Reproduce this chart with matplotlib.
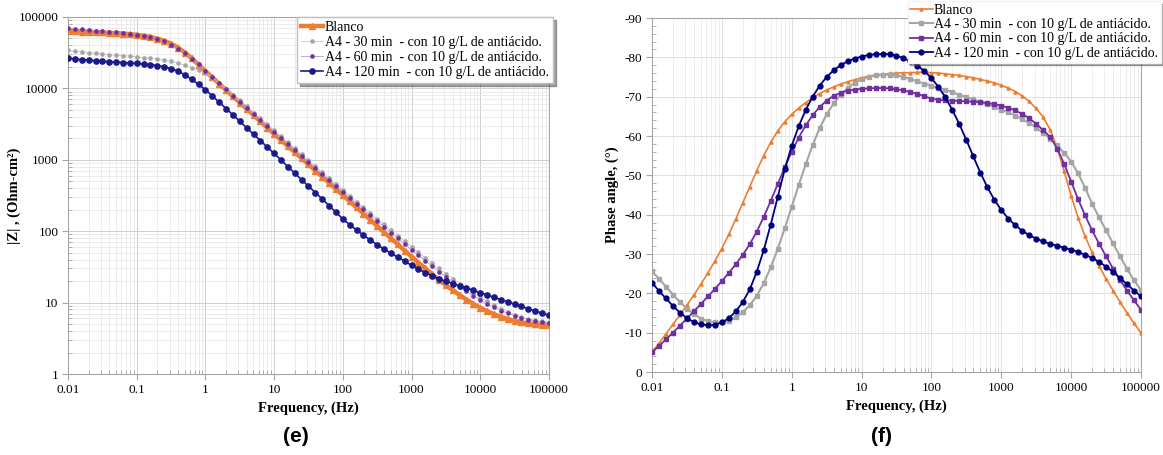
import numpy as np
import matplotlib
matplotlib.use("Agg")
import matplotlib.pyplot as plt
from matplotlib.ticker import LogLocator, MultipleLocator, NullFormatter

plt.rcParams['font.family'] = ['Liberation Serif', 'DejaVu Serif']
plt.rcParams['axes.unicode_minus'] = False

# frequency sweep, 10 points per decade from 0.01 Hz to 100 kHz
freq = np.logspace(-2, 5, 71)

labels = [
    "Blanco",
    "A4 - 30 min  - con 10 g/L de antiácido.",
    "A4 - 60 min  - con 10 g/L de antiácido.",
    "A4 - 120 min  - con 10 g/L de antiácido.",
]

# log10 |Z| (Ohm-cm2)
logz_blanco = [
    4.800, 4.797, 4.794, 4.790, 4.786, 4.782, 4.777, 4.772, 4.766, 4.758,
    4.748, 4.735, 4.718, 4.695, 4.665, 4.625, 4.570, 4.500, 4.420, 4.330,
    4.240, 4.152, 4.064, 3.976, 3.888, 3.800, 3.712, 3.624, 3.536, 3.448,
    3.360, 3.275, 3.190, 3.105, 3.020, 2.934, 2.848, 2.762, 2.676, 2.590,
    2.504, 2.418, 2.332, 2.246, 2.160, 2.073, 1.986, 1.900, 1.814, 1.728,
    1.643, 1.560, 1.478, 1.398, 1.320, 1.245, 1.173, 1.105, 1.041, 0.982,
    0.928, 0.880, 0.838, 0.801, 0.770, 0.745, 0.725, 0.709, 0.697, 0.688,
    0.681,
]
logz_30 = [
    4.530, 4.520, 4.510, 4.500, 4.490, 4.480, 4.472, 4.464, 4.456, 4.448,
    4.440, 4.430, 4.420, 4.408, 4.394, 4.376, 4.353, 4.325, 4.290, 4.250,
    4.210, 4.150, 4.075, 3.995, 3.912, 3.830, 3.745, 3.660, 3.578, 3.494,
    3.410, 3.326, 3.242, 3.158, 3.075, 2.992, 2.908, 2.825, 2.743, 2.660,
    2.578, 2.496, 2.414, 2.333, 2.252, 2.172, 2.093, 2.014, 1.936, 1.858,
    1.780, 1.703, 1.627, 1.552, 1.478, 1.405, 1.334, 1.265, 1.198, 1.134,
    1.074, 1.017, 0.964, 0.916, 0.872, 0.833, 0.800, 0.773, 0.752, 0.737,
    0.727,
]
logz_60 = [
    4.840, 4.832, 4.824, 4.816, 4.808, 4.800, 4.792, 4.784, 4.775, 4.764,
    4.750, 4.735, 4.715, 4.690, 4.655, 4.610, 4.555, 4.490, 4.415, 4.335,
    4.245, 4.158, 4.070, 3.983, 3.896, 3.809, 3.722, 3.636, 3.550, 3.467,
    3.385, 3.300, 3.216, 3.132, 3.048, 2.964, 2.880, 2.797, 2.714, 2.632,
    2.550, 2.468, 2.386, 2.304, 2.222, 2.140, 2.059, 1.978, 1.898, 1.818,
    1.739, 1.661, 1.584, 1.508, 1.433, 1.360, 1.289, 1.221, 1.156, 1.094,
    1.036, 0.982, 0.933, 0.889, 0.850, 0.816, 0.787, 0.762, 0.742, 0.726,
    0.714,
]
logz_120 = [
    4.420, 4.410, 4.400, 4.392, 4.385, 4.378, 4.372, 4.366, 4.360, 4.354,
    4.347, 4.339, 4.330, 4.318, 4.300, 4.275, 4.240, 4.190, 4.125, 4.055,
    3.980, 3.893, 3.805, 3.716, 3.627, 3.537, 3.447, 3.357, 3.267, 3.177,
    3.087, 2.995, 2.903, 2.811, 2.719, 2.630, 2.540, 2.450, 2.357, 2.264,
    2.170, 2.090, 2.015, 1.943, 1.875, 1.810, 1.748, 1.690, 1.635, 1.583,
    1.520, 1.470, 1.420, 1.375, 1.330, 1.298, 1.266, 1.234, 1.202, 1.170,
    1.138, 1.106, 1.074, 1.042, 1.010, 0.978, 0.946, 0.914, 0.882, 0.851,
    0.820,
]

# phase angle (degrees)
ph_blanco = [
    -5.0, -7.3, -9.7, -12.1, -14.5, -17.0, -19.6, -22.3, -25.2, -28.2,
    -31.4, -35.0, -38.9, -43.0, -47.1, -51.2, -55.0, -58.4, -61.3, -63.6,
    -65.5, -67.1, -68.5, -69.7, -70.8, -71.7, -72.5, -73.2, -73.8, -74.3,
    -74.8, -75.2, -75.5, -75.7, -75.9, -76.0, -76.1, -76.1, -76.2, -76.2,
    -76.1, -76.0, -75.8, -75.6, -75.4, -75.1, -74.8, -74.4, -74.0, -73.5,
    -72.9, -72.2, -71.3, -70.2, -68.8, -67.0, -64.8, -61.6, -57.0, -51.0,
    -44.8, -39.2, -34.5, -30.4, -26.9, -23.7, -20.7, -17.8, -15.0, -12.4,
    -9.9,
]
ph_30 = [
    -25.6, -23.7, -21.7, -19.7, -17.8, -16.1, -14.7, -13.6, -12.9, -12.6,
    -12.6, -13.0, -13.9, -15.2, -17.0, -19.4, -22.6, -26.6, -31.3, -36.5,
    -42.0, -47.5, -52.8, -57.7, -62.0, -65.5, -68.3, -70.5, -72.2, -73.5,
    -74.4, -75.0, -75.4, -75.6, -75.6, -75.4, -75.0, -74.5, -73.9, -73.3,
    -72.8, -72.2, -71.7, -71.1, -70.5, -69.9, -69.3, -68.7, -68.1, -67.4,
    -66.7, -66.0, -65.2, -64.3, -63.3, -62.1, -60.8, -59.3, -57.6, -55.7,
    -53.5, -50.5, -46.8, -42.8, -39.3, -36.0, -32.7, -29.4, -26.2, -23.3,
    -20.8,
]
ph_60 = [
    -5.0, -6.6, -8.3, -10.0, -11.8, -13.6, -15.4, -17.3, -19.2, -21.1,
    -23.1, -25.2, -27.4, -29.8, -32.5, -35.7, -39.4, -43.5, -47.8, -52.0,
    -56.0, -59.6, -62.7, -65.3, -67.4, -69.0, -70.2, -71.0, -71.5, -71.8,
    -72.0, -72.1, -72.2, -72.2, -72.1, -71.9, -71.6, -71.2, -70.7, -70.1,
    -69.5, -69.2, -69.1, -69.0, -68.9, -68.8, -68.7, -68.6, -68.4, -68.1,
    -67.7, -67.2, -66.5, -65.6, -64.5, -63.1, -61.5, -59.8, -56.8, -52.9,
    -48.4, -43.9, -39.8, -36.0, -32.6, -29.4, -26.3, -23.4, -20.7, -18.2,
    -15.8,
]
ph_120 = [
    -22.7, -20.6, -18.7, -16.8, -15.1, -13.7, -12.7, -12.1, -11.9, -12.0,
    -12.6, -13.7, -15.4, -17.8, -21.0, -25.5, -31.0, -37.5, -44.5, -51.5,
    -57.5, -62.5, -66.6, -70.0, -72.8, -75.0, -76.7, -78.0, -79.0, -79.7,
    -80.2, -80.6, -80.8, -80.9, -80.8, -80.4, -79.8, -79.0, -77.9, -76.5,
    -74.7, -72.5, -69.8, -66.6, -63.0, -59.0, -54.8, -50.7, -47.0, -43.8,
    -41.2, -39.0, -37.3, -35.9, -34.8, -33.9, -33.2, -32.6, -32.1, -31.6,
    -31.1, -30.5, -29.8, -29.0, -28.0, -26.8, -25.4, -23.9, -22.3, -20.7,
    -19.2,
]

c_orange = '#ED7D31'
c_gray = '#A5A5A5'
c_purple = '#7030A0'
c_navy = '#1A1A8C'
spine_c = '#A6A6A6'
xt = [0.01, 0.1, 1, 10, 100, 1000, 10000, 100000]
xtl = ['0.01', '0.1', '1', '10', '100', '1000', '10000', '100000']

fig = plt.figure(figsize=(11.63, 4.55), dpi=100)
ax1 = fig.add_axes([0.0585, 0.178, 0.4135, 0.785])
ax2 = fig.add_axes([0.5606, 0.1824, 0.4205, 0.778])

# ---- (e) Bode modulus ----
ax1.plot(freq, 10 ** np.array(logz_blanco), color=c_orange, lw=3.2, marker='^',
         ms=4.5, label=labels[0], zorder=3)
ax1.plot(freq, 10 ** np.array(logz_30), color='#C8C8C8', lw=0.6, marker='o',
         ms=2.3, mfc=c_gray, mec=c_gray, label=labels[1], zorder=4)
ax1.plot(freq, 10 ** np.array(logz_60), color='#B79BD0', lw=0.6, marker='o',
         ms=2.3, mfc=c_purple, mec=c_purple, label=labels[2], zorder=4)
ax1.plot(freq, 10 ** np.array(logz_120), color=c_navy, lw=1.2, marker='o',
         ms=3.8, label=labels[3], zorder=5)
ax1.set_xscale('log')
ax1.set_yscale('log')
ax1.set_xlim(0.01, 100000)
ax1.set_ylim(1, 100000)
ax1.set_xticks(xt)
ax1.set_xticklabels(xtl)
ax1.set_yticks([1, 10, 100, 1000, 10000, 100000])
ax1.set_yticklabels(['1', '10', '100', '1000', '10000', '100000'])
ax1.xaxis.set_minor_locator(LogLocator(base=10, subs=np.arange(2, 10), numticks=20))
ax1.yaxis.set_minor_locator(LogLocator(base=10, subs=np.arange(2, 10), numticks=20))
ax1.xaxis.set_minor_formatter(NullFormatter())
ax1.yaxis.set_minor_formatter(NullFormatter())
ax1.grid(which='major', color='#D0D0D0', lw=0.7)
ax1.grid(which='minor', color='#E4E4E4', lw=0.5)
ax1.set_xlabel('Frequency, (Hz)', fontweight='bold', fontsize=10.5, labelpad=4)
ax1.set_ylabel('|Z| , (Ohm-cm²)', fontweight='bold', fontsize=10.5)
ax1.yaxis.set_label_coords(-0.098, 0.5)
ax1.legend(loc='upper right', bbox_to_anchor=(0.4755, 0.963),
           bbox_transform=fig.transFigure, fontsize=10, frameon=True,
           fancybox=False, shadow=True, edgecolor='#BFBFBF', borderpad=0.3,
           labelspacing=0.15, handlelength=1.6, handletextpad=0.1,
           borderaxespad=0)

# ---- (f) phase angle ----
ax2.plot(freq, ph_blanco, color=c_orange, lw=1.2, marker='^', ms=2.2,
         label=labels[0], zorder=3)
ax2.plot(freq, ph_30, color=c_gray, lw=1.5, marker='s', ms=3.5,
         label=labels[1], zorder=4)
ax2.plot(freq, ph_60, color=c_purple, lw=1.3, marker='s', ms=3.5,
         label=labels[2], zorder=4)
ax2.plot(freq, ph_120, color='#00007F', lw=1.3, marker='o', ms=3.5,
         label=labels[3], zorder=5)
ax2.set_xscale('log')
ax2.set_xlim(0.01, 100000)
ax2.set_ylim(0, -90)
ax2.set_xticks(xt)
ax2.set_xticklabels(xtl)
ax2.set_yticks(np.arange(0, -91, -10))
ax2.yaxis.set_minor_locator(MultipleLocator(2))
ax2.xaxis.set_minor_locator(LogLocator(base=10, subs=np.arange(2, 10), numticks=20))
ax2.xaxis.set_minor_formatter(NullFormatter())
ax2.grid(which='major', color='#E0E0E0', lw=0.7)
ax2.grid(which='minor', axis='x', color='#E8E8E8', lw=0.5)
ax2.set_xlabel('Frequency, (Hz)', fontweight='bold', fontsize=10.5, labelpad=4)
ax2.set_ylabel('Phase angle, (°)', fontweight='bold', fontsize=10.5, labelpad=4)
ax2.legend(loc='upper right', bbox_to_anchor=(0.998, 0.998),
           bbox_transform=fig.transFigure, fontsize=10, frameon=True,
           fancybox=False, shadow=True, edgecolor='#F4F4F4', borderpad=0.2,
           labelspacing=0.1, handlelength=1.6, handletextpad=0.1,
           borderaxespad=0)

for ax in (ax1, ax2):
    for s in ax.spines.values():
        s.set_color(spine_c)
    ax.tick_params(which='major', direction='out', length=4, color=spine_c,
                   labelsize=9.5, pad=3)
    ax.tick_params(which='minor', direction='in', length=3, color=spine_c)
    ax.set_axisbelow(True)

fig.text(0.254, 0.04, '(e)', ha='center', va='center', fontsize=15,
         fontweight='bold', family='Liberation Sans')
fig.text(0.758, 0.04, '(f)', ha='center', va='center', fontsize=15,
         fontweight='bold', family='Liberation Sans')

fig.savefig('out.png', dpi=100)
